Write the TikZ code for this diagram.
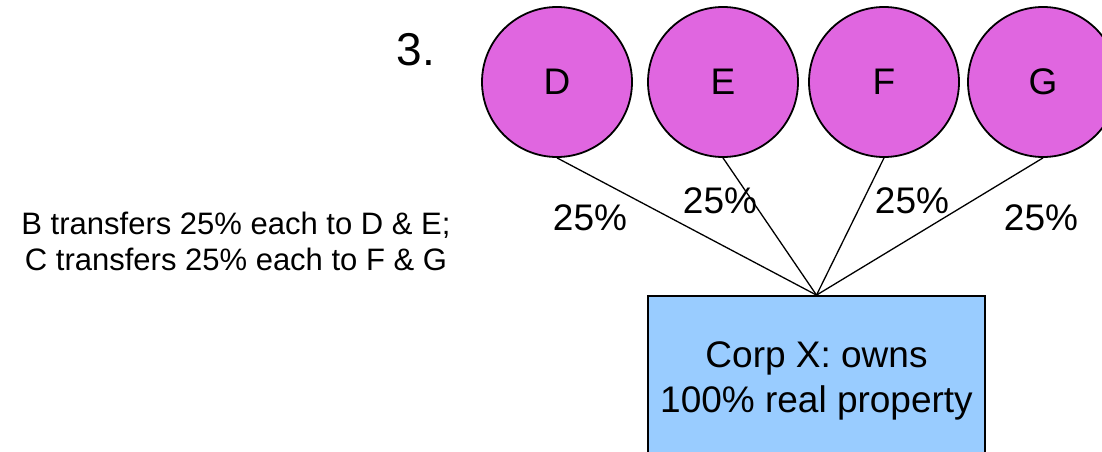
\documentclass[tikz,border=0pt]{standalone}
\usepackage{fontspec}
\setmainfont{Liberation Sans}
\definecolor{circfill}{RGB}{224,102,224}
\definecolor{boxfill}{RGB}{153,204,255}
\begin{document}
\begin{tikzpicture}[x=1pt,y=-1pt,
  entity/.style={circle,draw=black,line width=1.8pt,fill=circfill,minimum size=150pt,inner sep=0pt,font=\fontsize{37}{42}\selectfont},
  corp/.style={rectangle,draw=black,line width=1.8pt,fill=boxfill,minimum width=337pt,minimum height=169pt,inner sep=0pt,align=center,font=\fontsize{37}{45}\selectfont},
  pct/.style={inner sep=0pt,font=\fontsize{37}{42}\selectfont},
  link/.style={draw=black,line width=1.3pt}]
\useasboundingbox (0,0) rectangle (1102,452);
\clip (0,0) rectangle (1102,452);
\fill[white] (0,0) rectangle (1102,452);
\node[entity] (D) at (557,82) {D};
\node[entity] (E) at (723,82) {E};
\node[entity] (F) at (884,82) {F};
\node[entity] (G) at (1043,82) {G};
\node[corp] (X) at (816.5,380.5) {Corp X: owns\\100\% real property};
\draw[link] (D.south) -- (X.north);
\draw[link] (E.south) -- (X.north);
\draw[link] (F.south) -- (X.north);
\draw[link] (G.south) -- (X.north);
\node[pct] (pD) at (590,218) {25\%};
\node[pct] (pE) at (720,201) {25\%};
\node[pct] (pF) at (912,201) {25\%};
\node[pct] (pG) at (1041,218) {25\%};
\node[inner sep=0pt,font=\fontsize{46}{50}\selectfont] (num) at (416,50) {3.};
\node[inner sep=0pt,align=center,font=\fontsize{31}{36}\selectfont] (note) at (236,241) {B transfers 25\% each to D \& E;\\C transfers 25\% each to F \& G};
\end{tikzpicture}
\end{document}
